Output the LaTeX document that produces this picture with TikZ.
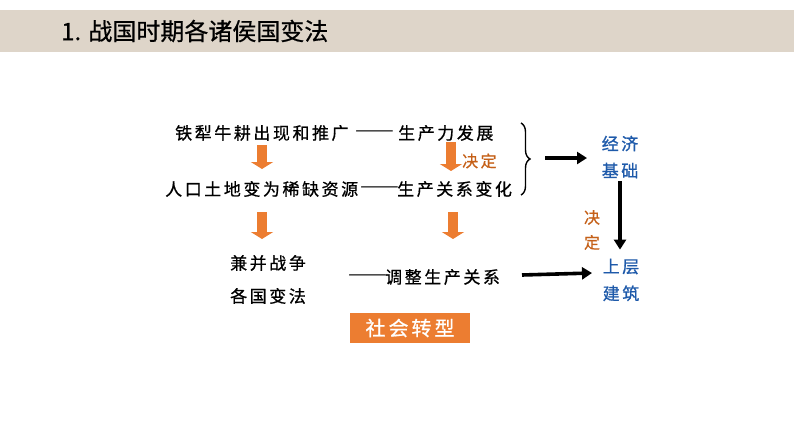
\documentclass[tikz,border=0pt]{standalone}
\usepackage{fontspec}
\setmainfont{Noto Sans CJK SC}
\newfontfamily\cjk{Noto Sans CJK SC}
\newfontfamily\cjktitle[FakeBold=0.6]{Noto Sans CJK SC}
\newfontfamily\cjkls[LetterSpace=15,FakeBold=0.8]{Noto Sans CJK SC}
\newfontfamily\cjkdash[FakeBold=0.8]{Noto Sans CJK SC}
\usetikzlibrary{arrows.meta,decorations.pathreplacing}
\definecolor{band}{RGB}{222,213,201}
\definecolor{orfill}{RGB}{236,125,49}
\definecolor{ortext}{RGB}{197,96,24}
\definecolor{bluetext}{RGB}{30,90,170}
\newcommand{\wdash}{\scalebox{1.35}[1]{——}}
\tikzset{
  txt/.style={font=\cjkls\fontsize{17}{20}\selectfont, anchor=west, inner sep=0pt},
  dashtxt/.style={font=\cjkdash\fontsize{17}{20}\selectfont, anchor=west, inner sep=0pt},
  bluebox/.style={font=\cjkls\fontsize{17}{27}\selectfont, text=bluetext, align=center, inner sep=0pt},
  ortxt/.style={font=\cjkls\fontsize{16}{25}\selectfont, text=ortext, align=center, inner sep=0pt},
  orarrow/.style={draw=orfill, line width=10pt, -{Triangle[width=22pt,length=7pt]}},
  blkarrow/.style={draw=black, line width=3.6pt, -{Triangle[width=12pt,length=10pt]}},
  orbox/.style={fill=orfill, text=white, font=\cjkls\fontsize{20}{24}\selectfont, minimum width=120pt, minimum height=30pt, inner sep=0pt}
}
\begin{document}
\begin{tikzpicture}[x=1pt,y=-1pt]
\useasboundingbox (0,0) rectangle (794,447);
\fill[white] (0,0) rectangle (794,447);
\fill[band] (0,10) rectangle (794,52);
\node[anchor=west, inner sep=0pt, font=\cjktitle\fontsize{24}{30}\selectfont] (title) at (61,31) {1. 战国时期各诸侯国变法};

% row 1
\node[txt] (r1a) at (175,133) {铁犁牛耕出现和推广};
\node[dashtxt] (r1d) at (355,133) {\wdash};
\node[txt] (r1b) at (398,133) {生产力发展};
% row 2
\node[txt] (r2a) at (165,189) {人口土地变为稀缺资源};
\node[dashtxt] (r2d) at (360,189) {\wdash};
\node[txt] (r2b) at (397,189) {生产关系变化};
% row 3
\node[txt] (r3a) at (230,263) {兼并战争};
\node[txt] (r3b) at (230,296) {各国变法};
\node[dashtxt] (r3d) at (348,277) {\wdash};
\node[txt] (r3c) at (385,277) {调整生产关系};

% orange down arrows
\coordinate (o1s) at (262,145); \coordinate (o1e) at (262,169);
\coordinate (o2s) at (451,142); \coordinate (o2e) at (451,171);
\coordinate (o3s) at (262,212); \coordinate (o3e) at (262,239);
\coordinate (o4s) at (453,212); \coordinate (o4e) at (453,239);
\draw[orarrow] (o1s) -- (o1e);
\draw[orarrow] (o2s) -- (o2e);
\draw[orarrow] (o3s) -- (o3e);
\draw[orarrow] (o4s) -- (o4e);
\node[ortxt, anchor=west] (jd1) at (462,161) {决定};

% brace
\coordinate (bt) at (521,123); \coordinate (bb) at (521,195);
\draw[decorate, decoration={brace, amplitude=9pt}, line width=1.4pt] (bt) -- (bb);

% right column
\node[bluebox] (jj) at (620,157) {经济\\基础};
\node[bluebox] (sc) at (621,280) {上层\\建筑};
\node[ortxt] (jd2) at (592,230) {决\\定};

\coordinate (a1s) at (545,158);
\draw[blkarrow] (a1s) -- (587,158) coordinate (a1e);
\draw[blkarrow, shorten <=3pt, shorten >=9pt] (jj.south -| 620,0) -- (sc.north -| 620,0);
\coordinate (a3s) at (522,275);
\draw[blkarrow] (a3s) -- (592,273) coordinate (a3e);

% box
\node[orbox] (sh) at (410,328) {社会转型};
\end{tikzpicture}
\end{document}
